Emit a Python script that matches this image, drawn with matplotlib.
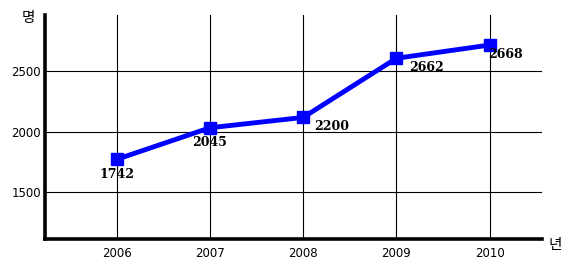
import matplotlib.pyplot as plt

plt.rcParams['font.family'] = ['DejaVu Sans', 'Noto Sans CJK KR']

years = [2006, 2007, 2008, 2009, 2010]
# plotted heights
values = [1773, 2033, 2118, 2605, 2714]
# printed labels next to points
labels = ['1742', '2045', '2200', '2662', '2668']
yticks = [1500, 2000, 2500]

fig = plt.figure(figsize=(5.75, 2.73), dpi=100)
ax = fig.add_axes([0.0783, 0.1245, 0.864, 0.8205])

ax.plot(years, values, color='#0000ff', linewidth=3.5, marker='s',
        markersize=8, zorder=3)

# value labels
offsets = [(0, -6, 'center', 'top'), (0, -6, 'center', 'top'),
           (8, -2, 'left', 'top'), (9, -2, 'left', 'top'),
           (-1, -2, 'left', 'top')]
for x, y, s, (dx, dy, ha, va) in zip(years, values, labels, offsets):
    ax.annotate(s, (x, y), xytext=(dx, dy), textcoords='offset points',
                ha=ha, va=va, fontsize=9, fontweight='bold',
                family='DejaVu Serif')

ax.set_xlim(2005.23, 2010.56)
ax.set_ylim(1117, 2961)
ax.set_xticks(years)
ax.set_yticks(yticks)
ax.grid(True, color='black', linewidth=0.8)
ax.tick_params(length=0, labelsize=8.5, pad=6)
ax.tick_params(axis='y', pad=3)

for s in ['top', 'right']:
    ax.spines[s].set_visible(False)
for s in ['left', 'bottom']:
    ax.spines[s].set_linewidth(2.6)

fig.text(28 / 575, 1 - 18 / 273, '명', ha='center', va='center',
         fontsize=10.5, family='Noto Sans CJK KR')
fig.text(555 / 575, 1 - 245 / 273, '년', ha='center', va='center',
         fontsize=10.5, family='Noto Sans CJK KR')

fig.savefig('out.png', dpi=100)
